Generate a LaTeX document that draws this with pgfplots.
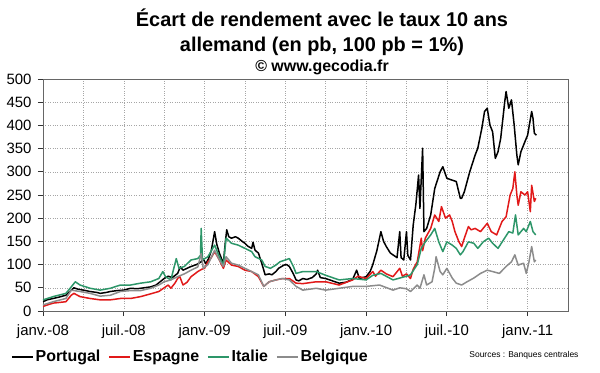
\documentclass[border=0pt]{standalone}
\usepackage{fontspec}
\setmainfont{Liberation Sans}
\usepackage{pgfplots}
\pgfplotsset{compat=1.18}
\definecolor{cPor}{RGB}{0,0,0}
\definecolor{cEsp}{RGB}{225,25,25}
\definecolor{cIta}{RGB}{45,150,105}
\definecolor{cBel}{RGB}{140,140,140}
\begin{document}
\begin{tikzpicture}[x=1bp,y=1bp]
\path[use as bounding box] (-43,-61) rectangle (557,311);
\begin{axis}[at={(0,0)}, anchor=south west, scale only axis,
  width=525bp, height=232bp,
  xmin=0, xmax=39, ymin=0, ymax=500,
  xtick={0,6,...,36},
  xticklabels={janv.-08,juil.-08,janv.-09,juil.-09,janv.-10,juil.-10,janv.-11},
  minor xtick={3,9,...,39},
  ytick={0,50,...,500},
  grid=both,
  major grid style={gray!70, dotted},
  minor grid style={gray!70, dotted},
  axis line style={gray!80!black},
  tick style={gray!40!black, line width=0.8bp},
  tick align=outside, major tick length=5bp, minor tick length=0bp,
  xtick pos=left, ytick pos=left,
  tick label style={font=\fontsize{15}{17}\selectfont},
  yticklabel style={xshift=-3bp},
  xticklabel style={yshift=-5bp},
  /pgf/number format/assume math mode=true,
  every axis plot/.append style={line width=1.5bp, line join=round},
  legend style={at={(-0.0667,-0.198)}, anchor=west, draw=none, fill=none,
    font=\bfseries\fontsize{16}{19}\selectfont,
    /tikz/every even column/.append style={column sep=6bp}},
  legend columns=4,
  legend image code/.code={\draw[#1] (0bp,0bp) -- (21bp,0bp);},
]
\addplot[cPor] coordinates {(0,20) (0.3,24) (0.75,27) (1.2,30) (1.7,34) (2.1,45) (2.3,50) (2.6,47) (3,45) (3.5,42) (4,40) (4.25,38) (4.7,40) (5,42) (5.5,44) (6,45) (6.5,49) (7,48) (7.5,50) (8,52) (8.4,56) (8.7,63) (9,70) (9.3,75) (9.6,72) (10,81) (10.2,95) (10.4,88) (10.7,92) (11,96) (11.4,100) (11.75,106) (11.9,112) (12.1,102) (12.3,113) (12.5,130) (12.75,171) (12.9,145) (13.1,125) (13.3,110) (13.4,103) (13.55,150) (13.65,175) (13.8,160) (14,157) (14.3,160) (14.5,157) (14.8,150) (15,146) (15.2,140) (15.5,135) (15.6,148) (15.75,131) (16,125) (16.25,103) (16.5,78) (16.8,80) (17,78) (17.3,85) (17.5,92) (17.9,99) (18.1,100) (18.3,96) (18.6,80) (18.8,67) (19.0,65) (19.3,70) (19.6,68) (20,72) (20.3,80) (20.4,88) (20.6,72) (21,70) (21.5,65) (22,60) (22.5,62) (23,68) (23.3,88) (23.5,70) (24,74) (24.3,85) (24.5,100) (24.8,130) (25.1,171) (25.3,150) (25.5,139) (25.8,125) (26,121) (26.3,115) (26.5,171) (26.6,115) (26.8,110) (27.0,171) (27.1,120) (27.3,110) (27.5,185) (27.7,230) (27.9,293) (28.0,221) (28.2,351) (28.3,171) (28.5,178) (28.8,207) (29.1,264) (29.5,300) (29.7,311) (30.0,286) (30.4,282) (30.7,279) (31.0,243) (31.1,243) (31.3,257) (31.7,300) (32.1,336) (32.3,351) (32.6,394) (32.8,430) (33.0,437) (33.2,401) (33.4,386) (33.6,329) (33.8,343) (34.0,372) (34.3,451) (34.4,473) (34.6,437) (34.8,455) (35.0,401) (35.2,336) (35.3,315) (35.5,343) (35.8,365) (36.0,379) (36.3,430) (36.4,415) (36.5,383) (36.65,379)};
\addlegendentry{Portugal}
\addplot[cEsp] coordinates {(0,10) (0.75,17) (1.7,20) (2.1,34) (2.3,38) (2.75,31) (3.5,27) (4.25,24) (5,24) (5.75,27) (6.5,27) (7.25,31) (8,37) (8.6,42) (9,50) (9.3,56) (9.5,49) (9.8,60) (10,70) (10.15,75) (10.4,56) (10.7,62) (11,74) (11.5,85) (11.8,90) (12,92) (12.25,106) (12.5,115) (12.75,128) (13.1,110) (13.4,92) (13.6,110) (14,99) (14.5,96) (15,88) (15.5,85) (16,74) (16.4,53) (16.8,63) (17.3,67) (17.8,70) (18.3,70) (18.8,60) (19.3,59) (20.3,63) (21,63) (22,56) (23,67) (23.4,75) (24,70) (24.5,85) (24.7,75) (25.1,88) (25.5,80) (26,74) (26.5,92) (26.7,75) (27,80) (27.3,70) (27.5,90) (27.8,106) (28.1,157) (28.2,130) (28.4,157) (28.8,178) (29.1,207) (29.4,193) (29.6,225) (29.9,200) (30.2,207) (30.4,193) (30.6,171) (30.9,149) (31.1,139) (31.3,157) (31.6,182) (31.8,175) (32.1,178) (32.5,171) (33.0,189) (33.3,171) (33.7,164) (34.1,193) (34.4,203) (34.7,250) (34.9,264) (35.05,300) (35.2,250) (35.3,228) (35.5,257) (35.8,250) (36.0,257) (36.2,214) (36.3,271) (36.5,236) (36.6,243)};
\addlegendentry{Espagne}
\addplot[cIta] coordinates {(0,24) (0.75,31) (1.7,38) (2.1,52) (2.4,63) (2.75,56) (3.5,49) (4.25,45) (5,49) (5.75,56) (6.5,56) (7.25,60) (8,63) (8.6,70) (8.9,85) (9.1,74) (9.5,67) (9.9,113) (10.1,92) (10.5,96) (11,110) (11.5,113) (11.7,120) (11.75,178) (11.85,110) (12.25,117) (12.75,142) (13.1,117) (13.4,99) (13.6,157) (14,146) (14.5,142) (15,135) (15.5,128) (15.75,117) (16.25,110) (16.5,96) (16.9,92) (17.3,99) (17.6,106) (18.3,113) (18.6,96) (18.8,81) (19.3,85) (20.3,85) (21,77) (22,67) (23,70) (24,67) (24.5,77) (25.1,81) (26,67) (27,75) (27.3,78) (27.8,100) (28.1,135) (28.4,149) (28.8,164) (29.1,178) (29.4,149) (29.7,128) (30.0,149) (30.4,142) (30.7,135) (31.0,121) (31.2,128) (31.6,149) (32.0,146) (32.3,135) (32.7,149) (33.1,157) (33.4,146) (33.8,135) (34.2,153) (34.6,171) (34.9,168) (35.1,207) (35.3,164) (35.7,178) (35.9,171) (36.2,193) (36.4,171) (36.6,164)};
\addlegendentry{Italie}
\addplot[cBel] coordinates {(0,13) (0.75,20) (1.7,27) (2.1,45) (2.75,42) (3.5,38) (4.25,32) (5,34) (5.75,42) (6.5,44) (7.25,44) (8,49) (8.6,56) (9,63) (9.5,67) (10,74) (10.5,80) (11,88) (11.5,95) (11.75,124) (11.9,92) (12.25,100) (12.75,131) (13.1,110) (13.4,96) (13.6,117) (14,103) (14.5,99) (15,92) (15.5,85) (16,78) (16.4,53) (16.8,63) (17.3,67) (17.8,70) (18.3,67) (18.8,53) (19.3,45) (20.3,49) (21,45) (22,49) (23,53) (24,53) (25,56) (26,45) (26.5,50) (27,48) (27.3,42) (27.8,56) (28.0,49) (28.3,78) (28.5,56) (28.9,63) (29.1,92) (29.2,117) (29.5,85) (29.7,78) (30.0,92) (30.4,71) (30.7,60) (31.1,56) (31.5,63) (32.0,71) (32.5,81) (33.0,88) (33.4,85) (33.9,81) (34.4,96) (34.8,106) (35.05,121) (35.3,99) (35.7,103) (35.9,81) (36.1,106) (36.3,139) (36.5,106) (36.6,110)};
\addlegendentry{Belgique}
\end{axis}
\node[anchor=base, font=\bfseries\fontsize{20}{24}\selectfont] at (279,285) {Écart de rendement avec le taux 10 ans};
\node[anchor=base, font=\bfseries\fontsize{20}{24}\selectfont] at (279,260) {allemand (en pb, 100 pb = 1\%)};
\node[anchor=base, font=\bfseries\fontsize{16}{19}\selectfont] at (279,240) {© www.gecodia.fr};
\node[anchor=east, font=\fontsize{8.5}{10}\selectfont] at (539,-44) {Sources : Banques centrales};
\end{tikzpicture}
\end{document}
